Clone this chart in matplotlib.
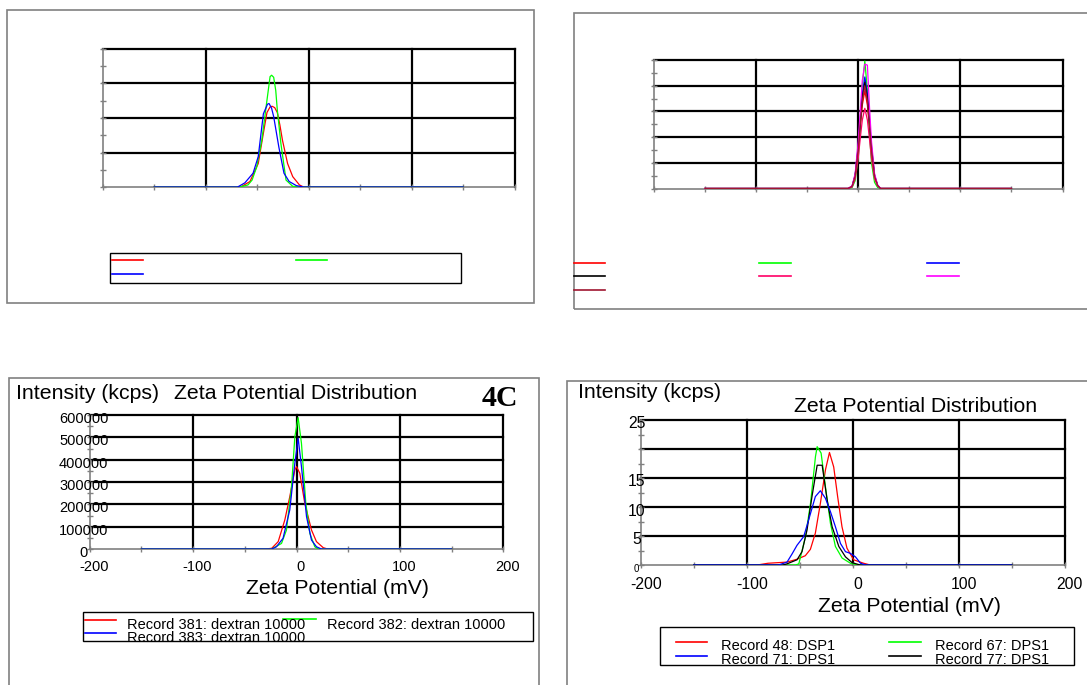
import matplotlib
matplotlib.use("Agg")
import matplotlib.pyplot as plt
from matplotlib.patches import Rectangle
from matplotlib.lines import Line2D
from matplotlib.transforms import blended_transform_factory, ScaledTranslation
import numpy as np

plt.rcParams['font.family'] = ['Liberation Sans', 'DejaVu Sans']

W, H = 1087, 685

# ---- panel A (top left), arbitrary intensity units, no labels in the original
a_red_x = [-150, -66, -57, -49, -44, -40.5, -37.5, -35.5, -33, -30.5, -28, -25.5, -20.5, -15.5, -9, -5, 150]
a_red_y = [0, 0, 8, 34, 78, 108, 116, 117, 115, 108, 90, 68, 34, 15, 3, 0, 0]
a_green_x = [-150, -67, -59, -55, -50.5, -45.5, -40.5, -37.5, -36, -34, -32, -30.5, -27, -22, -15.5, -9, 150]
a_green_y = [0, 0, 3, 10, 29, 68, 126, 160, 162, 159, 140, 112, 63, 10, 1, 0, 0]
a_blue_x = [-150, -69, -62, -54, -49, -44, -40, -38.5, -36, -34, -29, -24, -19, -12, -5, 150]
a_blue_y = [0, 0, 6, 20, 44, 106, 120, 121, 114, 102, 58, 20, 8, 2, 0, 0]

# ---- panel B (top right), seven records
b_x = [-150, -10, -6, -3, 0, 2, 4, 6.5, 9, 11, 13, 16, 19, 22, 150]
b_red = [0, 0, 4, 23, 72, 118, 162, 190, 162, 118, 72, 23, 6, 0, 0]
b_green = [0, 0, 2, 15, 60, 120, 200, 248, 190, 110, 50, 12, 2, 0, 0]
b_blue = [0, 0, 4, 26, 82, 135, 184, 217, 184, 135, 82, 26, 6, 0, 0]
b_black = [0, 0, 4, 25, 79, 128, 176, 207, 176, 128, 79, 25, 6, 0, 0]
b_pink = [0, 0, 3, 19, 59, 97, 133, 156, 133, 97, 59, 19, 5, 0, 0]
b_magenta = [0, 0, 5, 29, 90, 150, 210, 242, 240, 160, 92, 29, 7, 0, 0]
b_darkred = [0, 0, 4, 24, 76, 124, 170, 200, 170, 124, 76, 24, 6, 0, 0]

# ---- panel C (bottom left, "4C")
c_red_x = [-150, -30, -24, -17.7, -11.3, -6.5, -1.6, 0, 3.2, 8, 14.5, 19.3, 25.8, 30, 150]
c_red_y = [0, 0, 3000, 33000, 130000, 234000, 354000, 369000, 339000, 205000, 85000, 33000, 6000, 0, 0]
c_green_x = [-150, -24, -14.5, -9.7, -4.8, -1.6, 1.6, 4.8, 9, 12.9, 17.7, 21, 150]
c_green_y = [0, 0, 25000, 85000, 280000, 503000, 588000, 473000, 205000, 70000, 10000, 0, 0]
c_blue_x = [-150, -24, -19.4, -13, -6.5, -1.6, 1.6, 4.8, 9.7, 14.5, 19.3, 24, 150]
c_blue_y = [0, 0, 10000, 48000, 175000, 384000, 496000, 369000, 145000, 40000, 10000, 0, 0]
c_labels = ["Record 381: dextran 10000", "Record 382: dextran 10000", "Record 383: dextran 10000"]

# ---- panel D (bottom right)
d_red_x = [-150, -90, -80, -62, -52.6, -44.8, -40, -35.3, -30.6, -25.8, -22, -18, -14.3, -10.2, -5.5, 0.8, 10.2, 16.5, 150]
d_red_y = [0, 0, 0.3, 0.5, 1.0, 1.6, 2.7, 5.5, 10.6, 16.4, 19.4, 16.9, 11.8, 6.6, 2.9, 0.9, 0.3, 0, 0]
d_green_x = [-150, -54, -50.9, -44.6, -39.9, -35.2, -33.6, -29.9, -25.8, -21.1, -16.4, -10.1, -2.2, 5, 150]
d_green_y = [0, 0, 0.2, 4.9, 10.6, 18.7, 20.4, 19.3, 13.5, 7.2, 3.2, 1.2, 0.3, 0, 0]
d_black_x = [-150, -66, -62, -52.6, -47.9, -43.2, -38.5, -33.6, -28.9, -24.2, -19.5, -13.2, -6.9, -0.6, 7, 150]
d_black_y = [0, 0, 0.2, 0.9, 2.3, 6.0, 11.8, 17.2, 17.2, 11.2, 6.6, 3.2, 1.4, 0.4, 0, 0]
d_blue_x = [-150, -70, -62, -57.3, -52.6, -46.3, -41.6, -35.3, -30.6, -25.8, -21.1, -16.4, -11.6, -6.9, -2.2, 2.5, 7.3, 12, 150]
d_blue_y = [0, 0, 0.5, 1.9, 3.4, 4.9, 7.8, 11.8, 12.8, 11.5, 9.2, 6.6, 3.7, 2.3, 2.0, 1.4, 0.3, 0, 0]
d_labels = ["Record 48: DSP1", "Record 67: DPS1", "Record 71: DPS1", "Record 77: DPS1"]

x_major = [-200, -100, 0, 100, 200]
x_minor = [-150, -50, 50, 150]

GRAY = '#808080'
FS_BIG = 15.3

fig = plt.figure(figsize=(W / 100, H / 100), dpi=100)


def fx(x):
    return x / W


def fy(y):
    return 1 - y / H


def make_axes(l, t, r, b, ymax, ystep):
    ax = fig.add_axes([fx(l), fy(b), (r - l) / W, (b - t) / H])
    ax.set_xlim(-200, 200)
    ax.set_ylim(0, ymax)
    ax.set_facecolor('none')
    yt = np.arange(0, ymax + ystep / 4, ystep)
    for v in yt[1:]:
        ax.axhline(v, color='k', lw=1.6, clip_on=False, zorder=1)
    for v in x_major[1:]:
        ax.axvline(v, color='k', lw=1.6, clip_on=False, zorder=1)
    ax.set_xticks(x_major)
    ax.set_xticks(x_minor, minor=True)
    ax.set_yticks(yt)
    ax.set_yticks(yt[:-1] + ystep / 2, minor=True)
    ax.tick_params(which='both', direction='inout', length=5, width=1, color=GRAY,
                   labelbottom=False, labelleft=False)
    for s in ('top', 'right'):
        ax.spines[s].set_visible(False)
    for s in ('left', 'bottom'):
        ax.spines[s].set_color(GRAY)
        ax.spines[s].set_linewidth(1.2)
    return ax, yt


def frame(l, t, r, b):
    fig.add_artist(Rectangle((fx(l), fy(b)), (r - l) / W, (b - t) / H, transform=fig.transFigure,
                             fill=False, ec=GRAY, lw=1.2))


def leg_line(x0, x1, y, color):
    fig.add_artist(Line2D([fx(x0), fx(x1)], [fy(y), fy(y)], transform=fig.transFigure, color=color, lw=1.2))


def leg_box(l, t, r, b):
    box = Rectangle((fx(l), fy(b)), (r - l) / W, (b - t) / H, transform=fig.transFigure,
                    fill=False, ec='k', lw=1.0)
    fig.add_artist(box)
    return box


def xtick_labels(ax, dx, dy, size):
    tr = blended_transform_factory(ax.transData, ax.transAxes) + ScaledTranslation(dx / 100, -dy / 100, fig.dpi_scale_trans)
    for t in x_major:
        ax.text(t, 0, f'{t:g}', transform=tr, ha='center', va='top', fontsize=size, clip_on=False)


def ytick_labels(ax, values, dx, dy, size, size0=None):
    tr = blended_transform_factory(ax.transAxes, ax.transData) + ScaledTranslation(dx / 100, -dy / 100, fig.dpi_scale_trans)
    for v in values:
        fs = size0 if (v == 0 and size0) else size
        ax.text(0, v, f'{v:g}', transform=tr, ha='center', va='center', fontsize=fs, clip_on=False)


# ================= panel A =================
frame(7, 9.5, 534, 302.5)
axA, _ = make_axes(102.7, 49, 514.7, 187, 200, 50)
axA.plot(a_red_x, a_red_y, color='#ff0000', lw=0.9, zorder=3)
axA.plot(a_green_x, a_green_y, color='#00ff00', lw=0.9, zorder=3)
axA.plot(a_blue_x, a_blue_y, color='#0000ff', lw=0.9, zorder=3)
leg_box(110.2, 253.3, 460.6, 282.7)
leg_line(112, 143, 260.3, '#ff0000')
leg_line(296, 327, 260.3, '#00ff00')
leg_line(112, 143, 273.7, '#0000ff')

# ================= panel B =================
frame(573.7, 13, 1100, 309)
axB, _ = make_axes(653.9, 60, 1062.5, 188.5, 250, 50)
b_series = [(b_red, '#ff0000'), (b_green, '#00ff00'), (b_blue, '#0000ff'), (b_black, '#000000'),
            (b_pink, '#ff0066'), (b_magenta, '#ff00ff'), (b_darkred, '#a01530')]
for vals, col in b_series:
    axB.plot(b_x, vals, color=col, lw=0.9, zorder=3)
cols = [573.7, 759.3, 927]
rows = [263.3, 276.3, 290]
for i, (vals, col) in enumerate(b_series):
    c = i % 3 if i < 6 else 0
    r = i // 3
    leg_line(cols[c], cols[c] + 31.5, rows[r], col)

# ================= panel C =================
frame(8.7, 378.3, 538.8, 700)
axC, ytC = make_axes(89.7, 415, 503.3, 549, 600000, 100000)
axC.plot(c_red_x, c_red_y, color='#ff0000', lw=0.9, zorder=3)
axC.plot(c_green_x, c_green_y, color='#00ff00', lw=0.9, zorder=3)
axC.plot(c_blue_x, c_blue_y, color='#0000ff', lw=0.9, zorder=3)
xtick_labels(axC, 4, 11, 10.5)
ytick_labels(axC, ytC, -6, 4, 10.5)
fig.text(fx(15.6), fy(399), "Intensity (kcps)", fontsize=FS_BIG, va='baseline')
fig.text(fx(174), fy(399), "Zeta Potential Distribution", fontsize=FS_BIG, va='baseline')
fig.text(fx(482), fy(406.5), "4C", fontsize=21.5, fontweight='bold', family='Liberation Serif', va='baseline')
fig.text(fx(245.7), fy(594), "Zeta Potential (mV)", fontsize=FS_BIG, va='baseline')
boxC = leg_box(83.4, 612.3, 532.8, 641)
leg_line(85.2, 116.4, 620, '#ff0000')
leg_line(85.2, 116.4, 633.3, '#0000ff')
leg_line(283, 316.3, 619.3, '#00ff00')
fig.text(fx(126.9), fy(629.3), c_labels[0], fontsize=10.5, va='baseline')
fig.text(fx(326.7), fy(629), c_labels[1], fontsize=10.5, va='baseline')
t = fig.text(fx(126.9), fy(642), c_labels[2], fontsize=10.5, va='baseline')
t.set_clip_path(boxC)

# ================= panel D =================
frame(567.4, 381, 1100, 700)
axD, _ = make_axes(640.7, 420, 1064.9, 565, 25, 5)
axD.plot(d_red_x, d_red_y, color='#ff0000', lw=0.9, zorder=3)
axD.plot(d_green_x, d_green_y, color='#00ff00', lw=0.9, zorder=3)
axD.plot(d_black_x, d_black_y, color='#000000', lw=0.9, zorder=3)
axD.plot(d_blue_x, d_blue_y, color='#0000ff', lw=0.9, zorder=3)
xtick_labels(axD, 5, 12, 11.3)
ytick_labels(axD, [0, 5, 10, 15, 25], -4, 4, 11.3, size0=7)
fig.text(fx(578.5), fy(398.3), "Intensity (kcps)", fontsize=FS_BIG, va='baseline')
fig.text(fx(794.3), fy(411.7), "Zeta Potential Distribution", fontsize=FS_BIG, va='baseline')
fig.text(fx(818.2), fy(611.7), "Zeta Potential (mV)", fontsize=FS_BIG, va='baseline')
boxD = leg_box(659.8, 626.7, 1074.3, 665)
leg_line(676, 706.9, 641.7, '#ff0000')
leg_line(676, 706.9, 655.7, '#0000ff')
leg_line(889.4, 921.3, 641.7, '#00ff00')
leg_line(889.4, 921.3, 655.7, '#000000')
fig.text(fx(720.7), fy(650), d_labels[0], fontsize=10.5, va='baseline')
fig.text(fx(934.8), fy(650), d_labels[1], fontsize=10.5, va='baseline')
t = fig.text(fx(720.7), fy(664.5), d_labels[2], fontsize=10.5, va='baseline')
t.set_clip_path(boxD)
t = fig.text(fx(934.8), fy(664.5), d_labels[3], fontsize=10.5, va='baseline')
t.set_clip_path(boxD)

fig.savefig("out.png", dpi=100)
